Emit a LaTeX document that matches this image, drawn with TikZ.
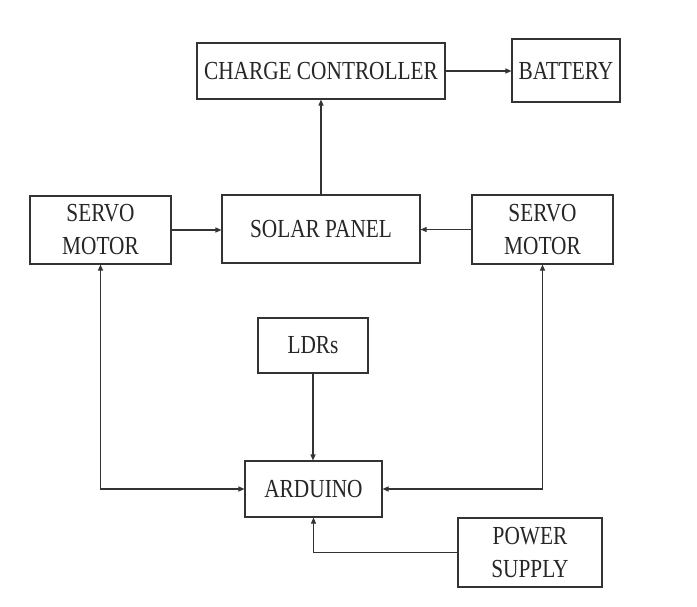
\documentclass[tikz,border=0pt]{standalone}
\usepackage{fontspec}
\setmainfont{Liberation Serif}[FakeStretch=0.82]
\usetikzlibrary{arrows.meta}
\begin{document}
\begin{tikzpicture}[x=1pt,y=-1pt,
  blk/.style={draw=black!80, line width=1.1pt, rectangle, inner sep=0pt, align=center,
    font=\fontsize{26}{33}\selectfont, text=black!85},
  conn/.style={draw=black!80, line width=1.1pt, -{Triangle[length=6pt,width=5pt]}},
  dconn/.style={draw=black!80, line width=1.1pt, {Triangle[length=6pt,width=5pt]}-{Triangle[length=6pt,width=5pt]}}]
\useasboundingbox[fill=white] (0,0) rectangle (697,606);
\node[blk, minimum width=248pt, minimum height=56pt] (cc) at (321,71) {CHARGE CONTROLLER};
\node[blk, minimum width=108pt, minimum height=63pt] (bat) at (566,70.5) {BATTERY};
\node[blk, minimum width=141pt, minimum height=68pt] (sl) at (100.5,230) {SERVO\\MOTOR};
\node[blk, minimum width=198pt, minimum height=68pt] (sp) at (321,229) {SOLAR PANEL};
\node[blk, minimum width=141pt, minimum height=69pt] (sr) at (542.5,229.5) {SERVO\\MOTOR};
\node[blk, minimum width=110pt, minimum height=55pt] (ldr) at (313,345.5) {LDRs};
\node[blk, minimum width=137pt, minimum height=56pt] (ard) at (313.5,489) {ARDUINO};
\node[blk, minimum width=144pt, minimum height=69pt] (ps) at (530,552.5) {POWER\\SUPPLY};
\draw[conn] (sp.north -| cc.south) -- (cc.south);
\draw[conn] (cc.east) -- (cc.east -| bat.west);
\draw[conn] (sl.east) -- (sl.east -| sp.west);
\draw[conn] (sr.west) -- (sr.west -| sp.east);
\draw[conn] (ldr.south) -- (ldr.south |- ard.north);
\draw[dconn] (sl.south) |- (ard.west);
\draw[dconn] (sr.south) |- (ard.east);
\draw[conn] (ps.west) -| (ard.south);
\end{tikzpicture}
\end{document}
